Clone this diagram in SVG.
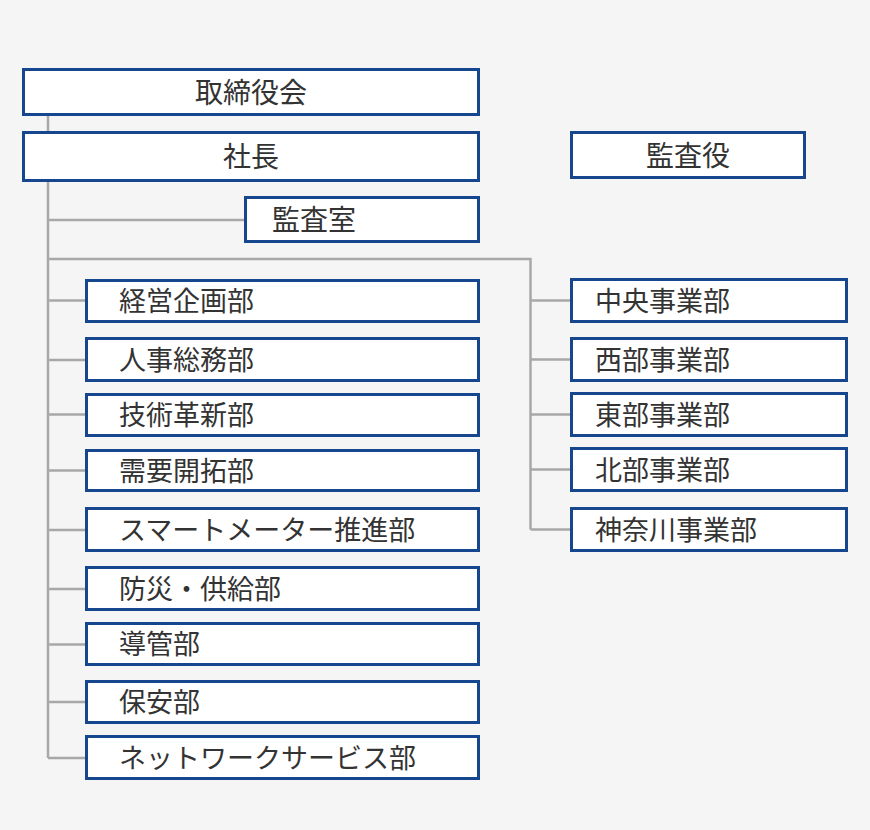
<svg xmlns="http://www.w3.org/2000/svg" width="870" height="830" viewBox="0 0 870 830">
<style>
.bg{fill:#f5f5f5}
.box{fill:#ffffff;stroke:#16468e;stroke-width:3}
.ln{fill:none;stroke:#a8a8a8;stroke-width:2.5}
text{font-family:"Noto Sans CJK JP","Noto Sans",sans-serif;fill:#333333}
.t28{font-size:28px}
.t26{font-size:27px}
.mid{text-anchor:middle}
</style>
<rect class="bg" x="0" y="0" width="870" height="830"/>
<g id="connectors">
<path class="ln" d="M48,116 V758"/>
<path class="ln" d="M48,220 H245"/>
<path class="ln" d="M48,259 H530.5 V529.5"/>
<path class="ln" d="M48,300.5 H86 M48,360 H86 M48,414.5 H86 M48,470.5 H86 M48,530 H86 M48,589 H86 M48,644.5 H86 M48,702 H86 M48,758 H86"/>
<path class="ln" d="M530.5,300.5 H571 M530.5,359.5 H571 M530.5,414.5 H571 M530.5,469.5 H571 M530.5,529.5 H571"/>
</g>
<g id="torishimariyakukai"><rect class="box" x="23.5" y="69.5" width="455" height="45"/><text class="t28 mid" x="251" y="102.6">取締役会</text></g>
<g id="shacho"><rect class="box" x="23.5" y="132.5" width="455" height="48"/><text class="t28 mid" x="251" y="167.1">社長</text></g>
<g id="kansashitsu"><rect class="box" x="245.5" y="197.5" width="233" height="44"/><text class="t28" x="272" y="230.1">監査室</text></g>
<g id="kansayaku"><rect class="box" x="571.5" y="132.5" width="233" height="45"/><text class="t28 mid" x="688" y="165.6">監査役</text></g>
<g id="keiei"><rect class="box" x="86.5" y="280.5" width="392" height="41"/><text class="t26" x="119" y="311.3">経営企画部</text></g>
<g id="jinji"><rect class="box" x="86.5" y="338.5" width="392" height="42"/><text class="t26" x="119" y="369.8">人事総務部</text></g>
<g id="gijutsu"><rect class="box" x="86.5" y="394.5" width="392" height="41"/><text class="t26" x="119" y="425.3">技術革新部</text></g>
<g id="juyo"><rect class="box" x="86.5" y="450.5" width="392" height="40"/><text class="t26" x="119" y="480.8">需要開拓部</text></g>
<g id="smartmeter"><rect class="box" x="86.5" y="508.5" width="392" height="42"/><text class="t26" x="119" y="539.8">スマートメーター推進部</text></g>
<g id="bosai"><rect class="box" x="86.5" y="567.5" width="392" height="42"/><text class="t26" x="119" y="598.8">防災・供給部</text></g>
<g id="dokan"><rect class="box" x="86.5" y="623.5" width="392" height="41"/><text class="t26" x="119" y="654.3">導管部</text></g>
<g id="hoan"><rect class="box" x="86.5" y="681.5" width="392" height="41"/><text class="t26" x="119" y="712.3">保安部</text></g>
<g id="network"><rect class="box" x="86.5" y="736.5" width="392" height="42"/><text class="t26" x="119" y="767.8">ネットワークサービス部</text></g>
<g id="chuo"><rect class="box" x="571.5" y="279.5" width="275" height="42"/><text class="t26" x="595" y="310.8">中央事業部</text></g>
<g id="seibu"><rect class="box" x="571.5" y="338.5" width="275" height="42"/><text class="t26" x="595" y="369.8">西部事業部</text></g>
<g id="tobu"><rect class="box" x="571.5" y="393.5" width="275" height="42"/><text class="t26" x="595" y="424.8">東部事業部</text></g>
<g id="hokubu"><rect class="box" x="571.5" y="448.5" width="275" height="42"/><text class="t26" x="595" y="479.8">北部事業部</text></g>
<g id="kanagawa"><rect class="box" x="571.5" y="508.5" width="275" height="42"/><text class="t26" x="595" y="539.8">神奈川事業部</text></g>
</svg>
